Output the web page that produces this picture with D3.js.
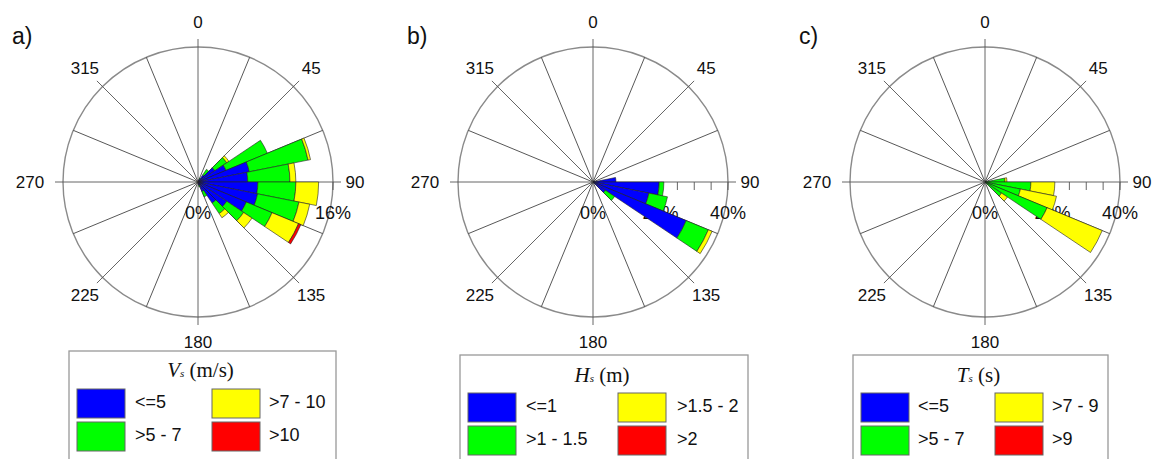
<!DOCTYPE html>
<html><head><meta charset="utf-8">
<script src="https://cdn.jsdelivr.net/npm/d3@7"></script>
<style>body{margin:0;background:#fff} text{font-family:"Liberation Sans",Arial,sans-serif;fill:#111}</style>
</head><body><svg id="c" width="1161" height="459"></svg>
<script>
// ---- data ----
const sectorStarts = [22.5, 33.75, 45, 56.25, 67.5, 78.75, 90, 101.25, 112.5, 123.75, 135, 146.25, 157.5];
const sectorWidth = 11.25;
const classColors = ["#0000ff", "#00ff00", "#ffff00", "#ff0000"];

const vsBlue   = [0.3, 1.0, 2.4, 3.6, 6.2, 5.9, 7.1, 7.2, 6.2, 4.1, 3.0, 1.2, 0.4];
const vsGreen  = [0.2, 0.8, 1.7, 5.3, 7.1, 5.0, 4.5, 5.0, 3.3, 2.4, 1.5, 0.7, 0.2];
const vsYellow = [0, 0, 0.3, 0, 0.3, 0.7, 2.7, 1.3, 3.4, 1.2, 0.6, 0, 0];
const vsRed    = [0, 0, 0, 0, 0, 0, 0, 0, 0.3, 0, 0, 0, 0];

const hsBlue   = [0, 0, 0, 0, 0.5, 6.8, 19.6, 16.9, 29.9, 4.4, 0, 0, 0];
const hsGreen  = [0, 0, 0, 0, 0, 0, 1.4, 5.6, 7.1, 3.3, 0, 0, 0];
const hsYellow = [0, 0, 0, 0, 0, 0, 0, 0, 1.2, 0, 0, 0, 0];
const hsRed    = [0, 0, 0, 0, 0, 0, 0, 0, 0, 0, 0, 0, 0];

const tsBlue   = [0, 0, 0, 0, 0, 0.3, 0.3, 0.3, 0.3, 0.3, 0, 0, 0];
const tsGreen  = [0, 0, 0, 0, 0, 5.6, 13.3, 10.4, 19.6, 5.6, 0, 0, 0];
const tsYellow = [0, 0, 0, 0, 0, 0.6, 7.1, 10.9, 17.7, 2.1, 0, 0, 0];
const tsRed    = [0, 0, 0, 0, 0, 0, 0, 0, 0, 0, 0, 0, 0];

const angleLabels = ["0", "45", "90", "135", "180", "225", "270", "315"];
const panelLetters = ["a)", "b)", "c)"];
const pctLabelsA = ["0%", "8%", "16%"];
const pctLabelsB = ["0%", "20%", "40%"];
const pctLabelsC = ["0%", "20%", "40%"];
const pctMax = [16, 40, 40];
const pctTickStep = [2, 5, 5];
const legendA = ["<=5", ">5 - 7", ">7 - 10", ">10"];
const legendB = ["<=1", ">1 - 1.5", ">1.5 - 2", ">2"];
const legendC = ["<=5", ">5 - 7", ">7 - 9", ">9"];
const titleVar = ["V", "H", "T"];
const titleUnit = ["(m/s)", "(m)", "(s)"];

// ---- layout ----
const svg = d3.select("#c");
const R = 135, CY = 182;
const centersX = [198, 593, 985];
const legendBoxes = [
  {x: 69, y: 351, w: 267, col2: 143, lab1: 66, lab2: 200, rows: [389, 422], tb: 377},
  {x: 460, y: 355, w: 288, col2: 158, lab1: 66, lab2: 217, rows: [393, 426], tb: 382},
  {x: 853, y: 355, w: 255, col2: 142, lab1: 65, lab2: 199, rows: [393, 426], tb: 382}
];
const panels = [
  {series: [vsBlue, vsGreen, vsYellow, vsRed], pct: pctLabelsA, legend: legendA},
  {series: [hsBlue, hsGreen, hsYellow, hsRed], pct: pctLabelsB, legend: legendB},
  {series: [tsBlue, tsGreen, tsYellow, tsRed], pct: pctLabelsC, legend: legendC}
];

panels.forEach((p, i) => {
  const cx = centersX[i];
  const g = svg.append("g").attr("transform", `translate(${cx},${CY})`);
  const r = d3.scaleLinear().domain([0, pctMax[i]]).range([0, R]);

  svg.append("text").attr("x", cx - 186).attr("y", 44).attr("font-size", 23).text(panelLetters[i]);

  g.append("circle").attr("r", R).attr("fill", "none").attr("stroke", "#8a8a8a").attr("stroke-width", 1.4);
  d3.range(16).forEach(k => {
    const a = k * 22.5 * Math.PI / 180;
    const len = (k % 2 === 0) ? R + 8 : R;
    g.append("line").attr("x1", 0).attr("y1", 0)
      .attr("x2", Math.sin(a) * len).attr("y2", -Math.cos(a) * len)
      .attr("stroke", k % 2 === 0 ? "#555" : "#444").attr("stroke-width", 0.9);
  });
  angleLabels.forEach((lab, k) => {
    const deg = k * 45;
    let rr = 160;
    if (deg === 90) rr = 157;
    if (deg === 270) rr = 168;
    const a = deg * Math.PI / 180;
    g.append("text").attr("x", Math.sin(a) * rr).attr("y", -Math.cos(a) * rr)
      .attr("text-anchor", "middle").attr("dominant-baseline", "central")
      .attr("font-size", 17).text(lab);
  });
  d3.range(pctTickStep[i], pctMax[i] + 0.001, pctTickStep[i]).forEach(t => {
    g.append("line").attr("x1", r(t)).attr("x2", r(t)).attr("y1", 0).attr("y2", 8)
      .attr("stroke", "#555").attr("stroke-width", 0.9);
  });
  const pv = [0, pctMax[i] / 2, pctMax[i]];
  p.pct.forEach((lab, k) => {
    g.append("text").attr("x", r(pv[k])).attr("y", 37)
      .attr("text-anchor", "middle").attr("font-size", 18).text(lab);
  });

  const arc = d3.arc();
  sectorStarts.forEach((s, j) => {
    let cum = 0;
    p.series.forEach((ser, c) => {
      const v = ser[j];
      if (v <= 0) return;
      const inner = cum; cum += v;
      g.append("path")
        .attr("d", arc({innerRadius: r(inner), outerRadius: r(cum),
          startAngle: s * Math.PI / 180, endAngle: (s + sectorWidth) * Math.PI / 180}))
        .attr("fill", classColors[c]).attr("stroke", "#222").attr("stroke-width", 0.6);
    });
  });

  const L = legendBoxes[i];
  svg.append("rect").attr("x", L.x).attr("y", L.y).attr("width", L.w).attr("height", 140)
    .attr("fill", "#fff").attr("stroke", "#999").attr("stroke-width", 1.3);
  const t = svg.append("text").attr("x", L.x + L.w / 2 - 2).attr("y", L.tb).attr("text-anchor", "middle")
    .style("font-family", '"Liberation Serif","Times New Roman",serif');
  t.append("tspan").attr("font-style", "italic").attr("font-size", 21).text(titleVar[i]);
  t.append("tspan").attr("font-style", "italic").attr("font-size", 11).text("s");
  t.append("tspan").attr("font-size", 21).text(" " + titleUnit[i]);
  p.legend.forEach((lab, k) => {
    const col = Math.floor(k / 2), row = k % 2;
    const sx = L.x + (col === 0 ? 8 : L.col2);
    const lx = L.x + (col === 0 ? L.lab1 : L.lab2);
    const sy = L.rows[row];
    svg.append("rect").attr("x", sx).attr("y", sy).attr("width", 48).attr("height", 29)
      .attr("fill", classColors[k]).attr("stroke", "#666").attr("stroke-width", 1);
    svg.append("text").attr("x", lx).attr("y", sy + 13).attr("dominant-baseline", "central")
      .attr("font-size", 18).text(lab);
  });
});
</script></body></html>
